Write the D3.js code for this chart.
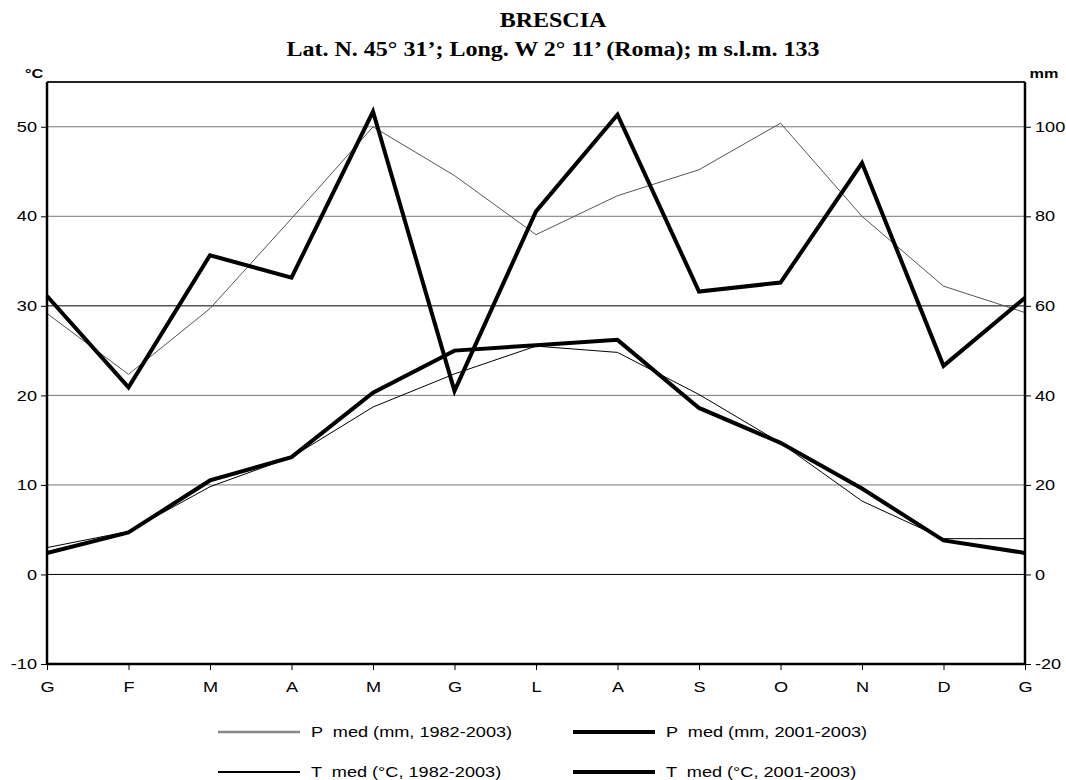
<!DOCTYPE html>
<html>
<head>
<meta charset="utf-8">
<script src="https://cdn.jsdelivr.net/npm/d3@7"></script>
<style>
  body { margin: 0; background: #fff; }
  svg { display: block; }
</style>
</head>
<body>
<svg id="chart" width="1066" height="780"></svg>
<script>
// month labels (G..G, Italian initials)
const months = ["G", "F", "M", "A", "M", "G", "L", "A", "S", "O", "N", "D", "G"];

// precipitation, mm (right axis)
const precOld = [58.3, 44.7, 59.4, 79.5, 100, 89.1, 75.9, 84.6, 90.4, 100.8, 80, 64.4, 58.5];
const precNew = [62.2, 41.8, 71.3, 66.3, 103.4, 41.0, 81.1, 102.7, 63.2, 65.2, 91.9, 46.6, 61.8];

// temperature, °C (left axis)
const tempOld = [3.0, 4.8, 9.8, 13.1, 18.7, 22.4, 25.5, 24.8, 20.1, 14.7, 8.2, 4.0, 4.0];
const tempNew = [2.4, 4.7, 10.5, 13.1, 20.3, 25.0, 25.6, 26.2, 18.6, 14.7, 9.6, 3.8, 2.4];

const leftTicks = [-10, 0, 10, 20, 30, 40, 50];
const rightTicks = [-20, 0, 20, 40, 60, 80, 100];
const gridValues = [0, 10, 20, 30, 40, 50];

const legendItems = [
  { label: "P  med (mm, 1982-2003)", style: "precOld" },
  { label: "P  med (mm, 2001-2003)", style: "thick" },
  { label: "T  med (°C, 1982-2003)", style: "tempOld" },
  { label: "T  med (°C, 2001-2003)", style: "thick" }
];

const styles = {
  precOld: { stroke: "#555", width: 1 },
  tempOld: { stroke: "#000", width: 1 },
  thick:   { stroke: "#000", width: 4 }
};
const legendStyles = {
  precOld: { stroke: "#888", width: 2.5 },
  tempOld: { stroke: "#000", width: 2 },
  thick:   { stroke: "#000", width: 4 }
};

// the original picture is stretched horizontally, so the text is too
const stretch = 1.25;

const margin = { left: 47, right: 41, top: 82, bottom: 116 };
const width = 1066 - margin.left - margin.right;
const height = 780 - margin.top - margin.bottom;

const svg = d3.select("#chart");
const g = svg.append("g").attr("transform", `translate(${margin.left},${margin.top})`);

const x = d3.scaleLinear().domain([0, months.length - 1]).range([0, width]);
const yT = d3.scaleLinear().domain([-10, 55]).range([height, 0]);
const yP = d3.scaleLinear().domain([-20, 110]).range([height, 0]);

// gridlines
g.selectAll(".grid")
  .data(gridValues)
  .join("line")
  .attr("class", "grid")
  .attr("x1", 0)
  .attr("x2", width)
  .attr("y1", d => yT(d))
  .attr("y2", d => yT(d))
  .attr("stroke", d => (d === 0 || d === 30) ? "#000" : "#777")
  .attr("stroke-width", 1);

// top border
g.append("line")
  .attr("x1", 0).attr("x2", width)
  .attr("y1", 0).attr("y2", 0)
  .attr("stroke", "#222").attr("stroke-width", 2);

// lines
function drawSeries(values, yScale, style) {
  const line = d3.line().x((d, i) => x(i)).y(d => yScale(d));
  g.append("path")
    .datum(values)
    .attr("fill", "none")
    .attr("stroke", styles[style].stroke)
    .attr("stroke-width", styles[style].width)
    .attr("stroke-linejoin", "miter")
    .attr("d", line);
}
drawSeries(tempOld, yT, "tempOld");
drawSeries(precOld, yP, "precOld");
drawSeries(tempNew, yT, "thick");
drawSeries(precNew, yP, "thick");

const font = "'Liberation Sans', Arial, sans-serif";

// left axis
const leftAxis = g.append("g")
  .call(d3.axisLeft(yT).tickValues(leftTicks).tickSize(6).tickPadding(4).tickFormat(d => String(d)));
leftAxis.select(".domain").attr("stroke-width", 2.5).attr("d", `M0,${height}V${yT(55)}`);

// right axis
const rightAxis = g.append("g")
  .attr("transform", `translate(${width},0)`)
  .call(d3.axisRight(yP).tickValues(rightTicks).tickSize(6).tickPadding(4).tickFormat(d => String(d)));
rightAxis.select(".domain").attr("stroke-width", 2.5).attr("d", `M0,${height}V${yP(110)}`);

// bottom axis
const bottomAxis = g.append("g")
  .attr("transform", `translate(0,${height})`)
  .call(d3.axisBottom(x).tickValues(d3.range(months.length))
    .tickSize(6).tickPadding(12).tickFormat(i => months[i]));
bottomAxis.select(".domain").attr("stroke-width", 2.5).attr("d", `M0,0H${width}`);

g.selectAll(".tick line").attr("stroke", "#000");
g.selectAll(".tick text")
  .attr("font-family", font)
  .attr("font-size", 14.5)
  .attr("fill", "#000")
  .attr("x", function () { return (+d3.select(this).attr("x") || 0) / stretch; })
  .attr("transform", `scale(${stretch},1)`);

// helper for stretched free text
function stretchedText(px, py, txt, opts) {
  svg.append("text")
    .attr("transform", `translate(${px},${py}) scale(${opts.k || stretch},1)`)
    .attr("text-anchor", opts.anchor || "middle")
    .attr("font-family", opts.family || font)
    .attr("font-weight", opts.weight || "normal")
    .attr("font-size", opts.size)
    .style("white-space", "pre")
    .text(txt);
}

// unit labels
stretchedText(34, 78, "°C", { size: 13, weight: "bold" });
stretchedText(1044, 78, "mm", { size: 13, weight: "bold" });

// title
const titleFont = "'Liberation Serif', 'Times New Roman', serif";
stretchedText(553, 27, "BRESCIA", { size: 20, weight: "bold", family: titleFont, k: 1.2 });
stretchedText(553, 56, "Lat. N. 45° 31’; Long. W 2° 11’ (Roma); m s.l.m. 133",
  { size: 20, weight: "bold", family: titleFont, k: 1.2 });

// legend
const legendItem = svg.append("g").selectAll(".legend-item")
  .data(legendItems)
  .join("g")
  .attr("class", "legend-item")
  .attr("transform", (d, i) => `translate(${i % 2 === 0 ? 218 : 573},${i < 2 ? 732 : 772})`);

legendItem.append("line")
  .attr("x1", 0).attr("x2", 82)
  .attr("y1", 0).attr("y2", 0)
  .attr("stroke", d => legendStyles[d.style].stroke)
  .attr("stroke-width", d => legendStyles[d.style].width);

legendItem.append("text")
  .attr("transform", `translate(93,0) scale(${stretch},1)`)
  .attr("dy", "0.35em")
  .attr("font-family", font).attr("font-size", 14.5)
  .style("white-space", "pre")
  .text(d => d.label);
</script>
</body>
</html>
